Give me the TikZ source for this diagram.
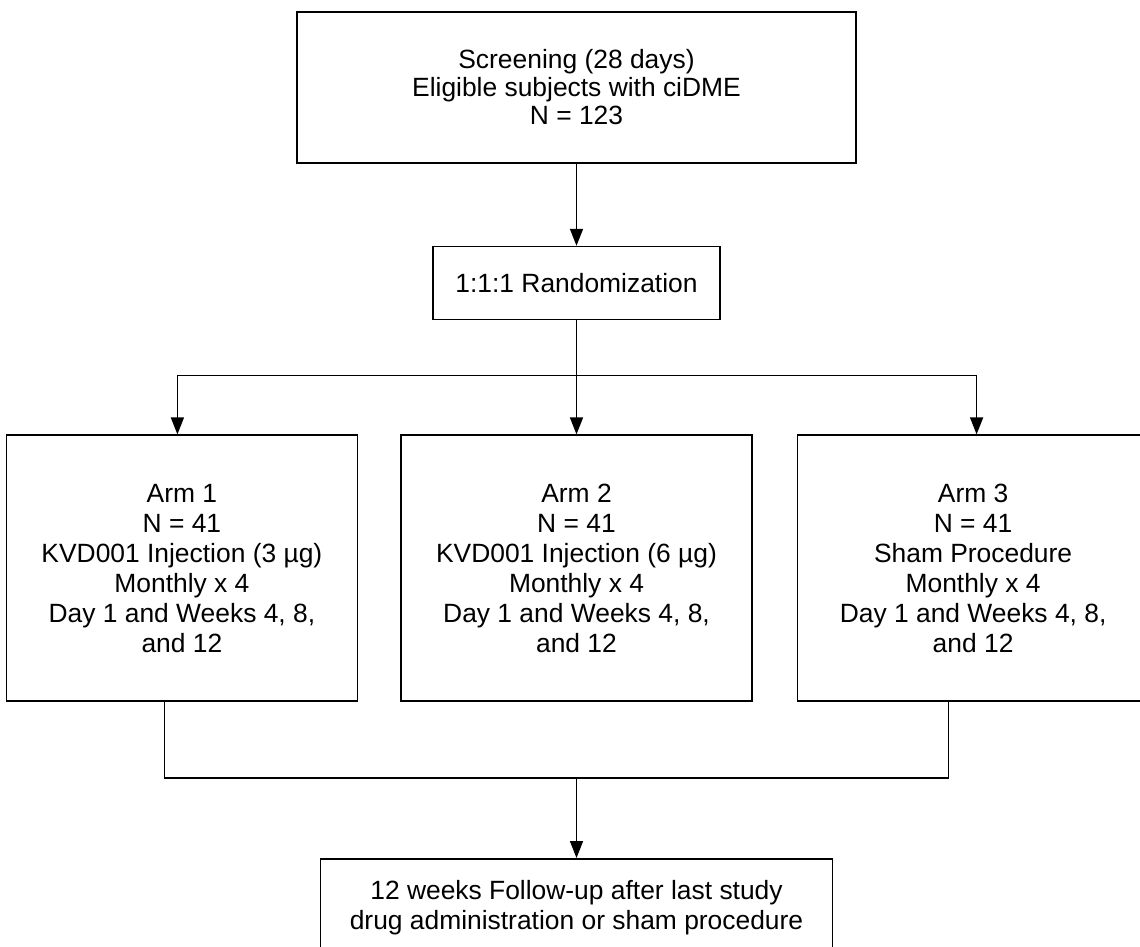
\documentclass[tikz,border=0pt]{standalone}
\usepackage{fontspec}
\setmainfont{Liberation Sans}
\usepackage{tikz}
\usetikzlibrary{positioning,arrows.meta}

\begin{document}
\begin{tikzpicture}[
x=0.5pt, y=-0.5pt,
line width=0.8pt,
>={Triangle[length=8.5pt,width=6.5pt]},
block/.style={rectangle, draw=black, align=center, inner sep=0pt, font=\fontsize{13.2}{15}\selectfont},
armbox/.style={block, minimum width=175.5pt, minimum height=133pt},
]
\useasboundingbox (0,0) rectangle (1140,947);
\clip (0,0) rectangle (1140,947);

\node[block, minimum width=279.5pt, minimum height=75.5pt, font=\fontsize{13.2}{14}\selectfont] (screen) at (576.5,87.5) {Screening (28 days)\\Eligible subjects with ciDME\\N = 123};
\node[block, minimum width=143.5pt, minimum height=36.5pt] (rando) [below=41pt of screen] {1:1:1 Randomization};
\node[armbox] (arm2) [below=57pt of rando] {Arm 2\\N = 41\\KVD001 Injection (6 µg)\\Monthly x 4\\Day 1 and Weeks 4, 8,\\and 12};
\node[armbox] (arm1) [left=21pt of arm2] {Arm 1\\N = 41\\KVD001 Injection (3 µg)\\Monthly x 4\\Day 1 and Weeks 4, 8,\\and 12};
\node[armbox] (arm3) [right=22pt of arm2] {Arm 3\\N = 41\\Sham Procedure\\Monthly x 4\\Day 1 and Weeks 4, 8,\\and 12};
\node[block, minimum width=256pt, minimum height=49pt] (follow) [below=78pt of arm2] {12 weeks Follow-up after last study\\drug administration or sham procedure};

%Branch points
\coordinate[below=27.5pt of rando.south] (split);
\coordinate (arm1_in) at ([xshift=-2.25pt]arm1.north);
\coordinate (arm3_in) at ([xshift=1.75pt]arm3.north);
\coordinate (arm1_out) at ([xshift=-8.75pt]arm1.south);
\coordinate (arm3_out) at ([xshift=-12.25pt]arm3.south);
\coordinate[below=38pt of arm2.south] (merge);

%Screening to randomization
\draw[->] (screen.south) -- (rando.north);

%Randomization to arms
\draw[->] (rando.south) -- (arm2.north);
\draw (split -| arm1_in) -- (split -| arm3_in);
\draw[->] (split -| arm1_in) -- (arm1_in);
\draw[->] (split -| arm3_in) -- (arm3_in);

%Arms to follow-up
\draw (arm1_out) |- (merge) -| (arm3_out);
\draw[->] (merge) -- (follow.north);
\end{tikzpicture}
\end{document}
